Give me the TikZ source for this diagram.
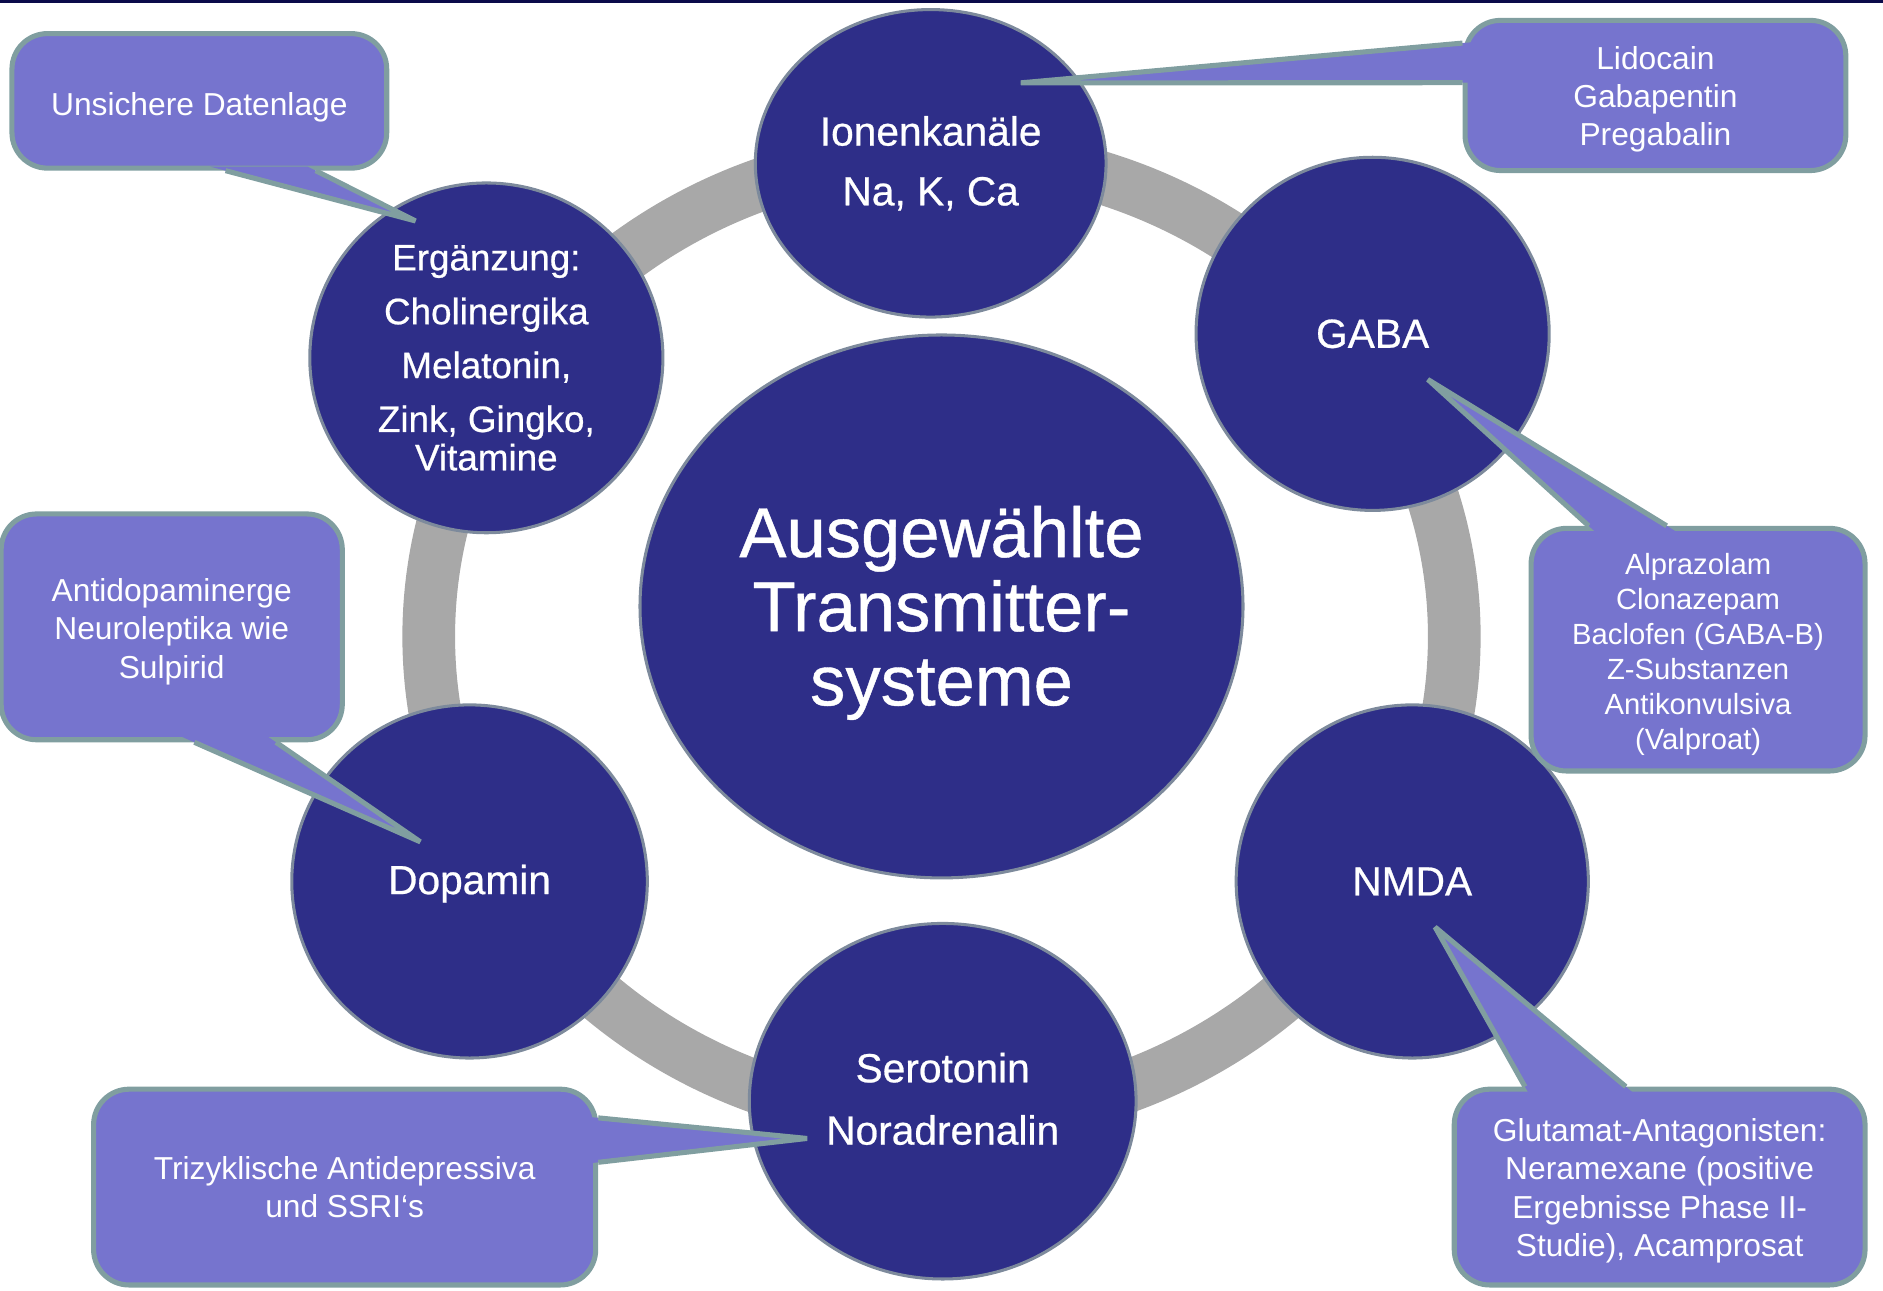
\documentclass[tikz,border=0pt]{standalone}
\usepackage{fontspec}
\setmainfont{Liberation Sans}
\usetikzlibrary{shapes.geometric,calc}

\definecolor{navy}{HTML}{2E2E88}
\definecolor{navyedge}{HTML}{7D8A9C}
\definecolor{ringgrey}{HTML}{A8A8A8}
\definecolor{callfill}{HTML}{7674CE}
\definecolor{calledge}{HTML}{809EA0}
\definecolor{topline}{HTML}{0B0B4A}

\newcommand{\calltail}[3]{%
  \fill[tailfill] ($(#1)!-0.08!(#2)$) -- (#2) -- ($(#3)!-0.08!(#2)$) -- cycle;
  \draw[tailedge] (#1) -- (#2) -- (#3);
}
\newcommand{\topstrut}[1]{\rule{0pt}{#1}}

\begin{document}
\begin{tikzpicture}[x=0.025cm, y=-0.025cm,
  sys/.style={ellipse, fill=navy, draw=navyedge, line width=1.8pt, inner sep=0pt,
    text=white, align=center,
    font=\fontsize{24.1pt}{35.4pt}\selectfont\addfontfeature{FakeBold=0.6}},
  callbox/.style={rectangle, rounded corners=21pt, fill=callfill, draw=calledge,
    line width=3pt, inner sep=0pt, text=white, align=center,
    font=\fontsize{18.8pt}{22.7pt}\selectfont},
  tailfill/.style={fill=callfill},
  tailedge/.style={draw=calledge, line width=3pt, line join=bevel},
  ringline/.style={draw=ringgrey, line width=31.2pt}
]
\useasboundingbox (0,0) rectangle (1568,1075);
\fill[topline] (0,0) rectangle (1568,2.5);

% grey ring
\draw[ringline] (784,530) ellipse [x radius=427, y radius=402];

% system circles
\node[sys, minimum width=12.55cm, minimum height=11.3cm,
  font=\fontsize{41.8pt}{43.9pt}\selectfont\addfontfeature{FakeBold=0.6}] (center) at (784,505)
  {\topstrut{38pt}Ausgewählte\\Transmitter-\\systeme};
\node[sys, minimum width=7.3cm, minimum height=6.4cm] (ionen) at (775,136)
  {Ionenkanäle\\Na, K, Ca};
\node[sys, minimum width=7.35cm, minimum height=7.35cm] (gaba) at (1143,278) {GABA};
\node[sys, minimum width=7.33cm, minimum height=7.35cm] (nmda) at (1176,734) {NMDA};
\node[sys, minimum width=8.05cm, minimum height=7.4cm,
  font=\fontsize{24.1pt}{36.9pt}\selectfont\addfontfeature{FakeBold=0.6}] (sero) at (785,917)
  {Serotonin\\Noradrenalin\rule[-3pt]{0pt}{0pt}};
\node[sys, minimum width=7.4cm, minimum height=7.35cm] (dopa) at (391,734)
  {\topstrut{20pt}Dopamin};
\node[sys, minimum width=7.35cm, minimum height=7.28cm,
  font=\fontsize{21.8pt}{31.9pt}\selectfont\addfontfeature{FakeBold=0.6}] (ergz) at (405,298)
  {Ergänzung:\\Cholinergika\\Melatonin,\\Zink, Gingko,\\[-9.2pt]Vitamine};

% callout boxes
\node[callbox, minimum width=7.8cm, minimum height=2.8cm] (c1) at (166,84)
  {\topstrut{20.7pt}Unsichere Datenlage};
\node[callbox, minimum width=7.925cm, minimum height=3.125cm] (c2) at (1378.5,79.5)
  {\topstrut{18.2pt}Lidocain\\Gabapentin\\Pregabalin};
\node[callbox, minimum width=7.1cm, minimum height=4.7cm] (c3) at (143,522)
  {\topstrut{19.4pt}Antidopaminerge\\Neuroleptika wie\\Sulpirid};
\node[callbox, minimum width=10.45cm, minimum height=4.075cm] (c4) at (287,988.5)
  {Trizyklische Antidepressiva\\und SSRI‘s};
\node[callbox, minimum width=6.95cm, minimum height=5.05cm,
  font=\fontsize{17.3pt}{20.8pt}\selectfont] (c5) at (1414,541)
  {\topstrut{18.3pt}Alprazolam\\Clonazepam\\Baclofen (GABA-B)\\Z-Substanzen\\Antikonvulsiva\\(Valproat)};
\node[callbox, minimum width=8.55cm, minimum height=4.075cm] (c6) at (1382,988.5)
  {\topstrut{17.9pt}Glutamat-Antagonisten:\\Neramexane (positive\\Ergebnisse Phase II-\\Studie), Acamprosat};

% tail coordinates
\coordinate (t1a) at ($(c1.south west)+(180,0)$);
\coordinate (t1b) at ($(c1.south west)+(255,0)$);
\coordinate (t1tip) at (346,184);
\coordinate (t2a) at ($(c2.north west)+(0,21)$);
\coordinate (t2b) at ($(c2.north west)+(0,54)$);
\coordinate (t2tip) at (850,69);
\coordinate (t3a) at ($(c3.south west)+(163,0)$);
\coordinate (t3b) at ($(c3.south west)+(231,0)$);
\coordinate (t3tip) at (350,701);
\coordinate (t4a) at ($(c4.north east)+(0,26)$);
\coordinate (t4b) at ($(c4.north east)+(0,63)$);
\coordinate (t4tip) at (672,948);
\coordinate (t5a) at ($(c5.north west)+(50,0)$);
\coordinate (t5b) at ($(c5.north west)+(115,0)$);
\coordinate (t5tip) at (1189,316);
\coordinate (t6a) at ($(c6.north west)+(61,0)$);
\coordinate (t6b) at ($(c6.north west)+(145,0)$);
\coordinate (t6tip) at (1195,772);

\calltail{t1a}{t1tip}{t1b}
\calltail{t2a}{t2tip}{t2b}
\calltail{t3a}{t3tip}{t3b}
\calltail{t4a}{t4tip}{t4b}
\calltail{t5a}{t5tip}{t5b}
\calltail{t6a}{t6tip}{t6b}
\end{tikzpicture}
\end{document}
